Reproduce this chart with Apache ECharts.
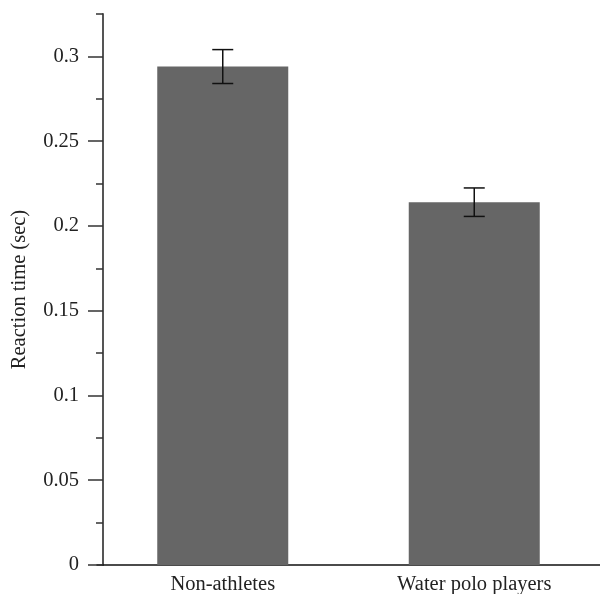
<!DOCTYPE html>
<html>
<head>
<meta charset="utf-8">
<script src="https://cdn.jsdelivr.net/npm/echarts@6/dist/echarts.min.js"></script>
<style>html,body{margin:0;padding:0;background:#fff}#c{width:600px;height:594px}</style>
</head>
<body>
<div id="c"></div>
<script>
const categories = ['Non-athletes', 'Water polo players'];
const meanValues = [0.294, 0.214];
const errorValues = [0.010, 0.0084];
const majorTicks = [0, 0.05, 0.1, 0.15, 0.2, 0.25, 0.3];
const yLabels = ['0', '0.05', '0.1', '0.15', '0.2', '0.25', '0.3'];

const FONT = 'Liberation Serif';
const chart = echarts.init(document.getElementById('c'));
const errData = categories.map((c, i) => [i, meanValues[i] - errorValues[i], meanValues[i] + errorValues[i]]);

chart.setOption({
  animation: false,
  grid: { left: 97, right: 0, top: 14, bottom: 29, containLabel: false, outerBoundsMode: 'none' },
  xAxis: {
    type: 'category',
    data: categories,
    axisLine: { lineStyle: { color: '#111', width: 1.5 } },
    axisTick: { show: false },
    axisLabel: { fontFamily: FONT, fontSize: 20.5, color: '#222', margin: 9 }
  },
  yAxis: [{
    type: 'value', min: 0, max: 0.325, interval: 0.05,
    offset: -6,
    name: 'Reaction time (sec)', nameLocation: 'middle', nameGap: 73,
    nameTextStyle: { fontFamily: FONT, fontSize: 20.5, color: '#222' },
    axisLine: { show: true, lineStyle: { color: '#555', width: 2 } },
    axisTick: { show: true, length: 15, customValues: majorTicks, lineStyle: { color: '#333', width: 1.5 } },
    axisLabel: {
      fontFamily: FONT, fontSize: 20.5, color: '#222', margin: 24,
      customValues: majorTicks,
      formatter: v => { const i = majorTicks.findIndex(t => Math.abs(t - v) < 1e-9); return i >= 0 ? yLabels[i] : ''; }
    },
    splitLine: { show: false }
  }, {
    type: 'value', min: 0, max: 0.325, interval: 0.025,
    offset: -6, position: 'left',
    axisLine: { show: false },
    axisTick: { show: true, length: 7, lineStyle: { color: '#333', width: 1.5 } },
    axisLabel: { show: false },
    splitLine: { show: false }
  }],
  series: [{
    type: 'bar',
    data: meanValues,
    barWidth: 131,
    itemStyle: { color: '#666666' },
    z: 2
  }, {
    type: 'custom',
    data: errData,
    z: 3,
    renderItem: (params, api) => {
      const x = api.value(0);
      const lo = api.coord([x, api.value(1)]);
      const hi = api.coord([x, api.value(2)]);
      const hw = 10.5;
      const style = { stroke: '#111', lineWidth: 1.5 };
      return {
        type: 'group',
        children: [
          { type: 'line', shape: { x1: lo[0], y1: lo[1], x2: hi[0], y2: hi[1] }, style },
          { type: 'line', shape: { x1: lo[0] - hw, y1: lo[1], x2: lo[0] + hw, y2: lo[1] }, style },
          { type: 'line', shape: { x1: hi[0] - hw, y1: hi[1], x2: hi[0] + hw, y2: hi[1] }, style }
        ]
      };
    }
  }]
});
</script>
</body>
</html>
